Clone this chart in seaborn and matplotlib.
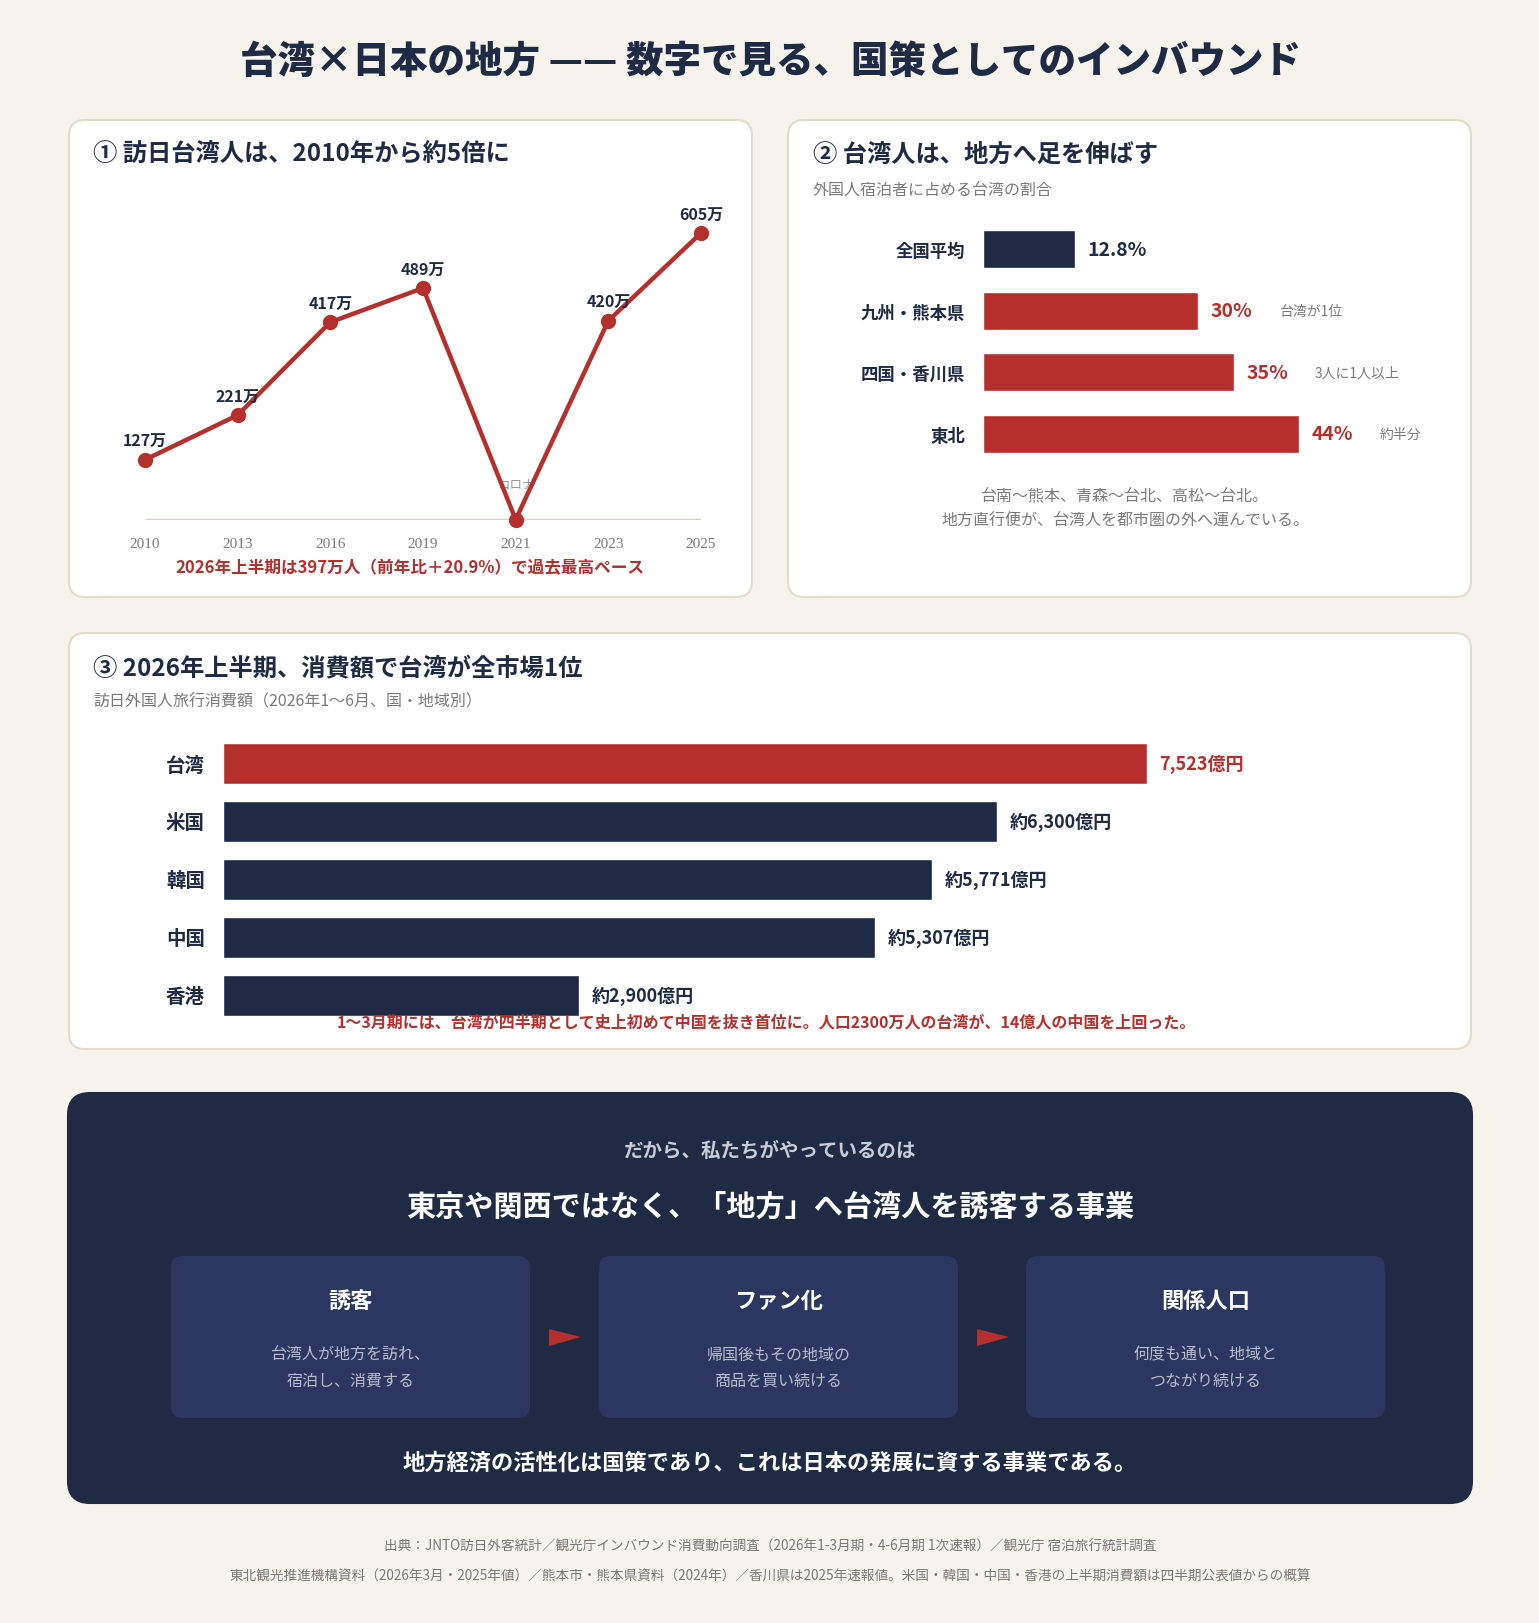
import pandas as pd
import seaborn as sns
import matplotlib.pyplot as plt
from matplotlib.patches import FancyBboxPatch, Polygon

# ---- data ----
years = ["2010", "2013", "2016", "2019", "2021", "2023", "2025"]
visitors = [127, 221, 417, 489, 1, 420, 605]
visitor_labels = ["127万", "221万", "417万", "489万", "", "420万", "605万"]

regions = ["全国平均", "九州・熊本県", "四国・香川県", "東北"]
share = [12.8, 30, 35, 44]
share_labels = ["12.8%", "30%", "35%", "44%"]
share_notes = ["", "台湾が1位", "3人に1人以上", "約半分"]

markets = ["台湾", "米国", "韓国", "中国", "香港"]
spend = [7523, 6300, 5771, 5307, 2900]
spend_labels = ["7,523億円", "約6,300億円", "約5,771億円", "約5,307億円", "約2,900億円"]

steps = ["誘客", "ファン化", "関係人口"]
step_texts = ["台湾人が地方を訪れ、\n宿泊し、消費する",
              "帰国後もその地域の\n商品を買い続ける",
              "何度も通い、地域と\nつながり続ける"]

NAVY = "#1f2a44"
RED = "#b5302d"
GRAY = "#7a7a7a"
BG = "#f6f3ec"
BORDER = "#e3dccb"

sns.set_theme(style="white")
plt.rcParams['font.family'] = ['Noto Sans CJK JP', 'DejaVu Sans']

W, H = 1539, 1624
fig = plt.figure(figsize=(W / 100, H / 100), dpi=100, facecolor=BG)
bg = fig.add_axes([0, 0, 1, 1], zorder=0)
bg.set_xlim(0, W)
bg.set_ylim(H, 0)
bg.axis("off")


def px_axes(x0, y0, x1, y1):
    ax = fig.add_axes([x0 / W, 1 - y1 / H, (x1 - x0) / W, (y1 - y0) / H], zorder=2)
    ax.set_facecolor("none")
    return ax


def card(x0, y0, x1, y1, fc="white", ec=BORDER, r=16, lw=1.5):
    bg.add_patch(FancyBboxPatch((x0, y0), x1 - x0, y1 - y0,
                                boxstyle=f"round,pad=0,rounding_size={r}",
                                fc=fc, ec=ec, lw=lw))


# title
bg.text(770, 62, "台湾×日本の地方 —— 数字で見る、国策としてのインバウンド",
        ha="center", va="center", fontsize=27, fontweight="heavy", color=NAVY)

# cards
card(69, 121, 752, 598)
card(788, 121, 1471, 598)
card(69, 634, 1471, 1050)
card(68, 1094, 1472, 1504, fc=NAVY, ec=NAVY, r=22)

# ---- panel 1: line chart ----
bg.text(93, 155, "① 訪日台湾人は、2010年から約5倍に", ha="left", va="center",
        fontsize=17.5, fontweight="bold", color=NAVY)

ax1 = px_axes(145, 234, 701, 521)
df1 = pd.DataFrame({"year": years, "visitors": visitors})
ax1.hlines(0, 0, len(years) - 1, color="#d8d1c3", lw=2.5, zorder=1)
sns.lineplot(data=df1, x="year", y="visitors", ax=ax1, sort=False, color=RED,
             lw=3.2, marker="o", markersize=11, markeredgewidth=0, zorder=3,
             clip_on=False)
ax1.set_xlim(0, len(years) - 1)
ax1.set_ylim(0, 605)
for i, (v, lab) in enumerate(zip(visitors, visitor_labels)):
    if lab:
        ax1.annotate(lab, (i, v), xytext=(0, 14), textcoords="offset points",
                     ha="center", va="center", fontsize=11.5, fontweight="bold",
                     color=NAVY, zorder=4)
ax1.annotate("コロナ", (4, 0), xytext=(0, 26), textcoords="offset points",
             ha="center", va="center", fontsize=9, color="#999999", zorder=2)
ax1.set_xlabel("")
ax1.set_ylabel("")
ax1.set_yticks([])
ax1.tick_params(axis="x", length=0, pad=12, labelsize=11, labelcolor=GRAY)
for t in ax1.get_xticklabels():
    t.set_family("Liberation Serif")
sns.despine(ax=ax1, left=True, bottom=True)

bg.text(410, 568, "2026年上半期は397万人（前年比＋20.9%）で過去最高ペース",
        ha="center", va="center", fontsize=12, fontweight="bold", color=RED)

# ---- panel 2: share bars ----
bg.text(813, 155, "② 台湾人は、地方へ足を伸ばす", ha="left", va="center",
        fontsize=17.5, fontweight="bold", color=NAVY)
bg.text(813, 190, "外国人宿泊者に占める台湾の割合", ha="left", va="center",
        fontsize=11.5, color=GRAY)

u2 = (435 - 250) / 3
ax2 = px_axes(983, 250 - u2 / 2, 1299, 435 + u2 / 2)
df2 = pd.DataFrame({"region": regions, "share": share})
sns.barplot(data=df2, y="region", x="share", hue="region",
            palette=[NAVY, RED, RED, RED], width=38 / u2, ax=ax2,
            legend=False, saturation=1)
ax2.set_xlim(0, 44)
for i, (v, lab, note) in enumerate(zip(share, share_labels, share_notes)):
    ax2.annotate(lab, (v, i), xytext=(9, 0), textcoords="offset points",
                 ha="left", va="center", fontsize=14, fontweight="bold",
                 color=NAVY if i == 0 else RED)
    if note:
        ax2.annotate(note, (v, i), xytext=(58, 0), textcoords="offset points",
                     ha="left", va="center", fontsize=10, color=GRAY)
ax2.set_xlabel("")
ax2.set_ylabel("")
ax2.set_xticks([])
ax2.tick_params(axis="y", length=0, pad=13, labelsize=12.5, labelcolor=NAVY)
for t in ax2.get_yticklabels():
    t.set_fontweight("bold")
sns.despine(ax=ax2, left=True, bottom=True)

bg.text(1125, 509, "台南〜熊本、青森〜台北、高松〜台北。\n地方直行便が、台湾人を都市圏の外へ運んでいる。",
        ha="center", va="center", fontsize=11.5, color=GRAY, linespacing=1.6)

# ---- panel 3: spend bars ----
bg.text(93, 668, "③ 2026年上半期、消費額で台湾が全市場1位", ha="left", va="center",
        fontsize=17.5, fontweight="bold", color=NAVY)
bg.text(93, 702, "訪日外国人旅行消費額（2026年1〜6月、国・地域別）", ha="left",
        va="center", fontsize=11.5, color=GRAY)

u3 = (996 - 764) / 4
ax3 = px_axes(223, 764 - u3 / 2, 1147, 996 + u3 / 2)
df3 = pd.DataFrame({"market": markets, "spend": spend})
sns.barplot(data=df3, y="market", x="spend", hue="market",
            palette=[RED, NAVY, NAVY, NAVY, NAVY], width=41 / u3, ax=ax3,
            legend=False, saturation=1)
ax3.set_xlim(0, 7523)
for i, (v, lab) in enumerate(zip(spend, spend_labels)):
    ax3.annotate(lab, (v, i), xytext=(9, 0), textcoords="offset points",
                 ha="left", va="center", fontsize=13, fontweight="bold",
                 color=RED if i == 0 else NAVY)
ax3.set_xlabel("")
ax3.set_ylabel("")
ax3.set_xticks([])
ax3.tick_params(axis="y", length=0, pad=13, labelsize=14, labelcolor=NAVY)
for t in ax3.get_yticklabels():
    t.set_fontweight("bold")
sns.despine(ax=ax3, left=True, bottom=True)

fig.text(766 / W, 1 - 1023 / H,
         "1〜3月期には、台湾が四半期として史上初めて中国を抜き首位に。人口2300万人の台湾が、14億人の中国を上回った。",
         ha="center", va="center", fontsize=11.5, fontweight="bold", color=RED,
         zorder=5)

# ---- dark panel ----
bg.text(770, 1151, "だから、私たちがやっているのは", ha="center", va="center",
        fontsize=14, fontweight="bold", color="#c9ccd6")
bg.text(770, 1207, "東京や関西ではなく、「地方」へ台湾人を誘客する事業", ha="center",
        va="center", fontsize=21, fontweight="bold", color="white")

box_x = [171, 599, 1026]
box_w = 359
for x0, title, txt in zip(box_x, steps, step_texts):
    card(x0, 1257, x0 + box_w, 1419, fc="#2b3760", ec="#2b3760", r=12, lw=0)
    cx = x0 + box_w / 2
    bg.text(cx, 1301, title, ha="center", va="center", fontsize=16,
            fontweight="bold", color="white")
    bg.text(cx, 1368, txt, ha="center", va="center", fontsize=11.5,
            color="#b9bdcc", linespacing=1.7)

for ax_left in [549, 977]:
    bg.add_patch(Polygon([[ax_left, 1330], [ax_left, 1347], [ax_left + 32, 1338]],
                         closed=True, fc=RED, ec="none"))

bg.text(770, 1463, "地方経済の活性化は国策であり、これは日本の発展に資する事業である。",
        ha="center", va="center", fontsize=16, fontweight="bold", color="white")

# ---- footer ----
bg.text(770, 1547, "出典：JNTO訪日外客統計／観光庁インバウンド消費動向調査（2026年1-3月期・4-6月期 1次速報）／観光庁 宿泊旅行統計調査",
        ha="center", va="center", fontsize=9.8, color=GRAY)
bg.text(770, 1577, "東北観光推進機構資料（2026年3月・2025年値）／熊本市・熊本県資料（2024年）／香川県は2025年速報値。米国・韓国・中国・香港の上半期消費額は四半期公表値からの概算",
        ha="center", va="center", fontsize=9.8, color=GRAY)

fig.savefig("out.png", dpi=100, facecolor=BG)
